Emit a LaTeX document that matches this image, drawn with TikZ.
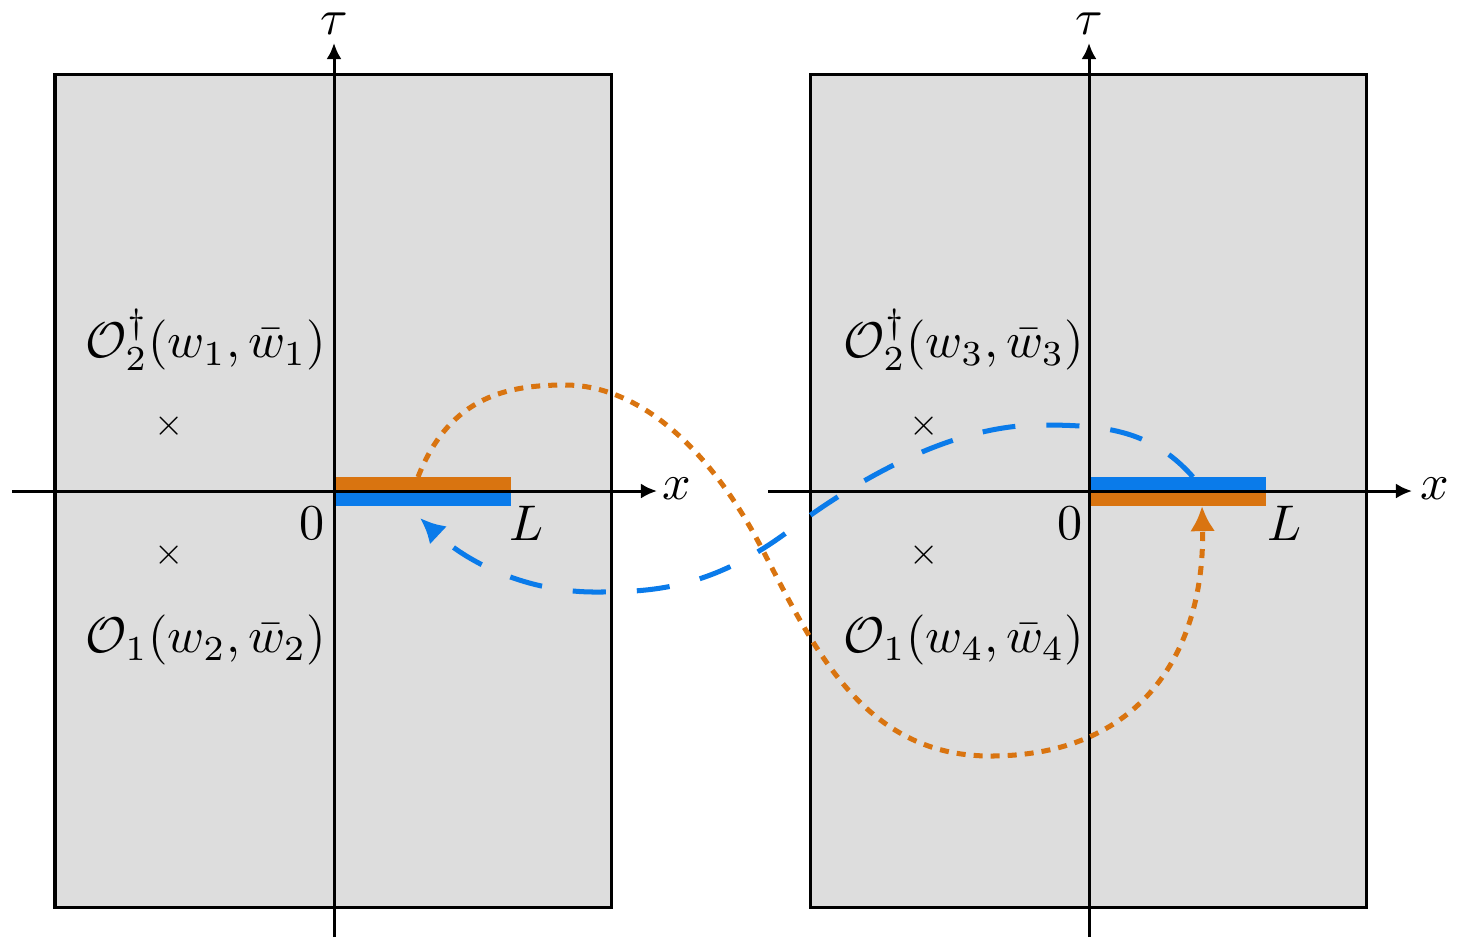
\documentclass[tikz,border=0pt]{standalone}
\usepackage{amsmath}
\usetikzlibrary{arrows.meta}
\definecolor{myorange}{RGB}{217,116,16}
\definecolor{myblue}{RGB}{10,123,234}
\definecolor{plane}{RGB}{221,221,221}
\tikzset{
  planebox/.style={fill=plane,draw=black,line width=0.6pt},
  axisline/.style={line width=0.6pt,-{Latex[length=3.2pt,width=3pt]}},
  orangecurve/.style={myorange,line width=1pt,dash pattern=on 1.8pt off 1.6pt,-{Latex[length=5pt,width=5pt]}},
  bluecurve/.style={myblue,line width=1pt,dash pattern=on 6.6pt off 6.2pt,-{Latex[length=5pt,width=5pt]}},
  lbl/.style={inner sep=0pt},
  crossmark/.style={inner sep=0pt,scale=0.75}
}
\begin{document}
\begin{tikzpicture}[x=0.1995pt,y=-0.1995pt]
\useasboundingbox (0,0) rectangle (1459,951);
% planes
\draw[planebox] (55,74) rectangle (611,907);
\draw[planebox] (810,74) rectangle (1366,907);
% bars
\fill[myorange] (334,477) rectangle (511,491);
\fill[myblue] (334,491) rectangle (511,506);
\fill[myblue] (1089,477) rectangle (1266,491);
\fill[myorange] (1089,491) rectangle (1266,506);
% axes
\coordinate (xl0) at (12,491);
\coordinate (xl1) at (657,491);
\coordinate (tl0) at (334,937);
\coordinate (tl1) at (334,43);
\coordinate (xr0) at (768,491);
\coordinate (xr1) at (1412,491);
\coordinate (tr0) at (1089,937);
\coordinate (tr1) at (1089,43);
\draw[axisline] (xl0) -- (xl1);
\draw[axisline] (tl0) -- (tl1);
\draw[axisline] (xr0) -- (xr1);
\draw[axisline] (tr0) -- (tr1);
\node[lbl] (xlab1) at (677,489) {$x$};
\node[lbl] (taulab1) at (334,24) {$\tau$};
\node[lbl] (xlab2) at (1435,489) {$x$};
\node[lbl] (taulab2) at (1089,24) {$\tau$};
\node[lbl] (zero1) at (312,523) {$0$};
\node[lbl] (Ll) at (527,523) {$L$};
\node[lbl] (zero2) at (1070,523) {$0$};
\node[lbl] (Lr) at (1285,523) {$L$};
% crosses
\node[crossmark] (c1) at (169,426) {$\times$};
\node[crossmark] (c2) at (169,555) {$\times$};
\node[crossmark] (c3) at (924,426) {$\times$};
\node[crossmark] (c4) at (924,555) {$\times$};
% labels
\node[lbl] (o21) at (206,340) {$\mathcal{O}_2^\dagger(w_1,\bar{w}_1)$};
\node[lbl] (o12) at (206,640) {$\mathcal{O}_1(w_2,\bar{w}_2)$};
\node[lbl] (o23) at (964,340) {$\mathcal{O}_2^\dagger(w_3,\bar{w}_3)$};
\node[lbl] (o14) at (964,640) {$\mathcal{O}_1(w_4,\bar{w}_4)$};
% curve endpoints
\coordinate (os) at (418,477);
\coordinate (oe) at (1202,506);
\coordinate (bs) at (1193,477);
\coordinate (be) at (420,518);
% curves
\draw[orangecurve] (os) .. controls (450,395) and (510,385) .. (565,385)
  .. controls (640,385) and (710,450) .. (760,545)
  .. controls (810,640) and (860,756) .. (990,756)
  .. controls (1150,756) and (1205,640) .. (oe);
\draw[bluecurve] (bs) .. controls (1150,428) and (1100,425) .. (1040,425)
  .. controls (960,425) and (870,470) .. (790,530)
  .. controls (710,590) and (650,592) .. (595,592)
  .. controls (530,592) and (470,565) .. (be);
\end{tikzpicture}
\end{document}
